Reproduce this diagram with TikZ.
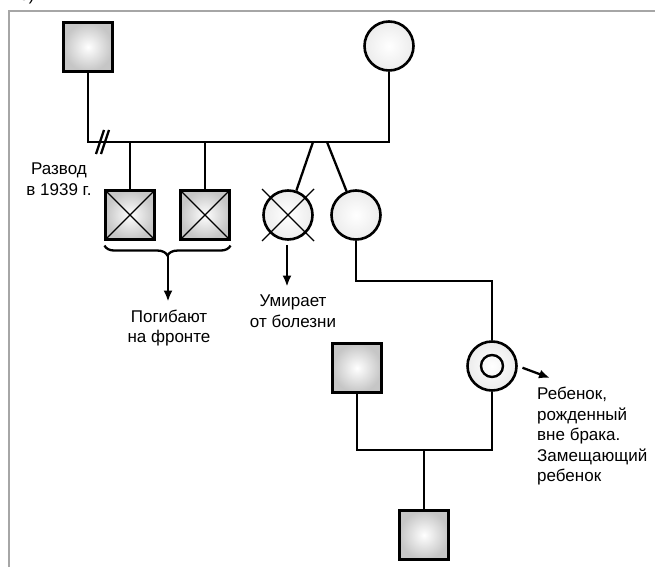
\documentclass[tikz,border=0pt]{standalone}
\usepackage{fontspec}
\setmainfont{Liberation Sans}
\usetikzlibrary{arrows.meta}
\usetikzlibrary{calc}
\usetikzlibrary{decorations.pathreplacing}

\begin{document}
\begin{tikzpicture}[x=1pt,y=-1pt,
	male/.style={draw,line width=2.6pt,minimum size=48.5pt,inner sep=0pt,inner color=white,outer color=gray!45},
	female/.style={draw,circle,line width=2.6pt,minimum size=49pt,inner sep=0pt,inner color=white,outer color=gray!15},
	crossed/.style={path picture={\draw[line width=1.4pt] (path picture bounding box.north west) -- (path picture bounding box.south east) (path picture bounding box.south west) -- (path picture bounding box.north east);}},
	lne/.style={line width=2.3pt},
	arr/.style={line width=2.3pt,-{Latex[length=11pt,width=9pt]}},
	txt/.style={font=\fontsize{17}{20.5}\selectfont,align=center,inner sep=0pt}]
\useasboundingbox (0,0) rectangle (655,567);
\draw[gray!70,line width=1.6pt] (9,567) -- (9,11) -- (655,11);
\node[anchor=base west,inner sep=0pt,font=\fontsize{17}{20}\selectfont] (lbl) at (19,1) {б)};
% parents
\node[male] (gf) at (88,47) {};
\node[female] (gm) at (389,46) {};
\coordinate (mar) at (200,142);
\draw[lne] (gf) -- (gf |- mar) -- (gm |- mar) -- (gm);
\foreach \d in {0,5}
	\draw[lne] (96+\d,154) -- (104+\d,130);
% children
\node[male,crossed] (s1) at (130,215) {};
\node[male,crossed] (s2) at (205,215) {};
\node[female] (d1) at (288,215) {};
\node[female] (sis) at (356,215) {};
\draw[line width=1.4pt] ($(d1)+(-26,-26)$) -- ($(d1)+(26,26)$) ($(d1)+(-26,26)$) -- ($(d1)+(26,-26)$);
\draw[lne] (s1) -- (s1 |- mar);
\draw[lne] (s2) -- (s2 |- mar);
\coordinate (tw1) at (313,142);
\coordinate (tw2) at (327,142);
\draw[lne] (tw1) -- (d1);
\draw[lne] (tw2) -- (sis);
\node[txt] (div) at (59,179) {Развод\\в 1939 г.};
% brace and notes
\draw[lne,decorate,decoration={brace,amplitude=10pt,mirror}] ([yshift=-5pt]s1.south west) -- ([yshift=-5pt]s2.south east);
\coordinate (br) at (168,256);
\node[txt] (fall) at (169,328) {Погибают\\на фронте};
\draw[arr,shorten >=8pt] (br) -- (br |- fall.north);
\node[txt] (ill) at (293,311) {Умирает\\от болезни};
\draw[arr,shorten <=4pt,shorten >=8pt] (d1.south -| 287,0) -- (ill.north -| 287,0);
% next generation
\node[female] (dc) at (492,366) {};
\draw[line width=2.4pt] (dc) circle (11pt);
\coordinate (c2) at (420,281);
\draw[lne] (sis) -- (sis |- c2) -- (dc |- c2) -- (dc);
\node[male] (hb) at (357,368) {};
\coordinate (m2) at (424,450);
\draw[lne] (hb) -- (hb |- m2) -- (dc |- m2) -- (dc);
\node[male] (son) at (424,535) {};
\draw[lne] (m2) -- (son);
\coordinate (ar1) at (550,378);
\draw[arr,shorten <=5pt] (dc.east) -- (ar1);
\node[txt,align=left,anchor=north west] (note) at (537,387) {Ребенок,\\рожденный\\вне брака.\\Замещающий\\ребенок};
\end{tikzpicture}
\end{document}
